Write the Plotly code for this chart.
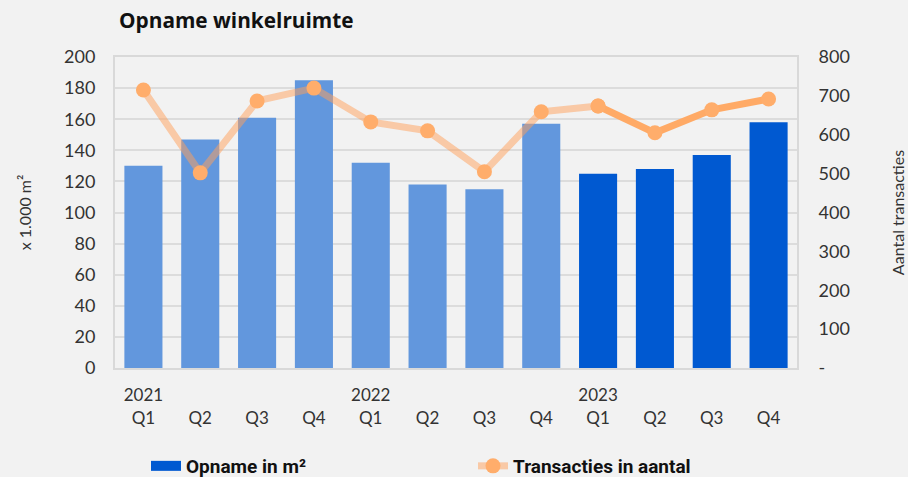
import plotly.graph_objects as go

periods = ["2021 Q1", "2021 Q2", "2021 Q3", "2021 Q4",
           "2022 Q1", "2022 Q2", "2022 Q3", "2022 Q4",
           "2023 Q1", "2023 Q2", "2023 Q3", "2023 Q4"]
tick_labels = ["2021<br>Q1", "\u00a0<br>Q2", "\u00a0<br>Q3", "\u00a0<br>Q4",
               "2022<br>Q1", "\u00a0<br>Q2", "\u00a0<br>Q3", "\u00a0<br>Q4",
               "2023<br>Q1", "\u00a0<br>Q2", "\u00a0<br>Q3", "\u00a0<br>Q4"]
opname = [130, 147, 161, 185, 132, 118, 115, 157, 125, 128, 137, 158]
transacties = [715, 502, 687, 720, 633, 610, 505, 659, 674, 605, 664, 692]

n_old = 8  # 2021-2022 shown lighter

font_main = "Lato"
dark_blue = "#0059d1"
fig = go.Figure()

# legend-only entry for the bars (wide rectangle symbol)
fig.add_trace(go.Scatter(
    x=[None], y=[None], name="Opname in m²", mode="lines",
    line=dict(color=dark_blue, width=14),
))
fig.add_trace(go.Bar(
    x=periods[n_old:], y=opname[n_old:], name="Opname in m²", showlegend=False,
    marker=dict(color=dark_blue, line=dict(width=0)), width=0.67,
))
fig.add_trace(go.Bar(
    x=periods[:n_old], y=opname[:n_old], name="Opname in m² (old)", showlegend=False,
    marker=dict(color="#6297dd", line=dict(width=0)), width=0.67,
))
fig.add_trace(go.Scatter(
    x=periods[:n_old + 1], y=transacties[:n_old + 1], name="Transacties in aantal",
    mode="lines+markers", yaxis="y2",
    line=dict(color="rgba(255,160,90,0.5)", width=7),
    marker=dict(color="#ffad6b", size=15),
))
fig.add_trace(go.Scatter(
    x=periods[n_old:], y=transacties[n_old:], name="Transacties 2023", showlegend=False,
    mode="lines+markers", yaxis="y2",
    line=dict(color="#ffaa66", width=7),
    marker=dict(color="#ffad6b", size=15),
))

fig.update_layout(
    width=908, height=477,
    paper_bgcolor="#f2f2f2", plot_bgcolor="#f2f2f2",
    margin=dict(l=115, r=111, t=57, b=109),
    barmode="overlay",
    font=dict(family=font_main, size=18, color="#333333"),
    title=dict(text="<b>Opname winkelruimte</b>", x=119 / 908, xanchor="left",
               y=1 - 21 / 477, yanchor="middle",
               font=dict(family="Open Sans", size=20.8, color="#111111")),
    xaxis=dict(
        type="category", categoryorder="array", categoryarray=periods,
        range=[-0.5, len(periods) - 0.5], autorange=False,
        tickmode="array", tickvals=periods, ticktext=tick_labels,
        showgrid=False, showline=True, linecolor="#d9d9d9", linewidth=2, mirror=True,
        ticks="outside", ticklen=11, tickcolor="rgba(0,0,0,0)",
        tickfont=dict(size=17, color="#333333"), automargin=False,
    ),
    yaxis=dict(
        range=[0, 200], dtick=20, showgrid=True, gridcolor="#dcdcdc", gridwidth=2,
        showline=True, linecolor="#d9d9d9", linewidth=2, mirror=True,
        zeroline=False, ticks="outside", ticklen=14, tickcolor="rgba(0,0,0,0)",
        title=dict(text="x 1.000 m²", font=dict(size=16, color="#333333"), standoff=28),
        tickfont=dict(size=18, color="#333333"), automargin=False,
    ),
    yaxis2=dict(
        range=[0, 800], overlaying="y", side="right",
        tickmode="array", tickvals=[0, 100, 200, 300, 400, 500, 600, 700, 800],
        ticktext=["-", "100", "200", "300", "400", "500", "600", "700", "800"],
        showgrid=False, zeroline=False, ticks="outside", ticklen=17,
        tickcolor="rgba(0,0,0,0)",
        title=dict(text="Aantal transacties", font=dict(size=16, color="#333333"), standoff=43),
        tickfont=dict(size=18, color="#333333"), automargin=False,
    ),
    legend=dict(
        orientation="h", xref="container", yref="container",
        x=146 / 908, xanchor="left", y=(477 - 466) / 477, yanchor="middle",
        font=dict(family="Roboto", size=19, color="#111111", weight="bold"),
        entrywidth=282, entrywidthmode="pixels",
        bgcolor="rgba(0,0,0,0)", traceorder="normal",
    ),
)

fig.write_html("out.html", config={"displayModeBar": False},
               post_script="document.body.style.margin='0';")
